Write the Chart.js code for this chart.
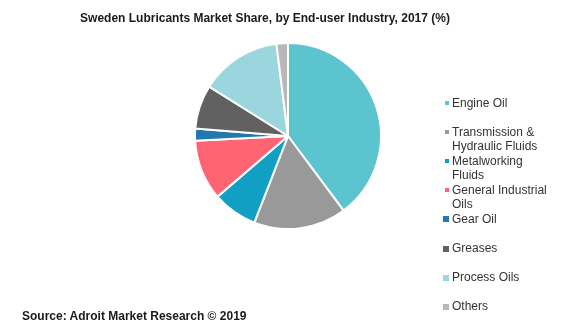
<!DOCTYPE html>
<html>
<head>
<meta charset="utf-8">
<script src="https://cdn.jsdelivr.net/npm/chart.js@4/dist/chart.umd.min.js"></script>
<style>
    html, body {
        margin: 0;
        padding: 0;
        background: #fff;
    }
    #wrap {
        position: relative;
        width: 576px;
        height: 336px;
        font-family: "Liberation Sans", Arial, sans-serif;
    }
    #share-chart {
        position: absolute;
        left: 0;
        top: 0;
    }
    .chart-title {
        position: absolute;
        left: 60px;
        width: 410px;
        top: 11px;
        text-align: center;
        font-size: 12px;
        line-height: 14px;
        font-weight: bold;
        color: #1a1a1a;
        white-space: nowrap;
    }
    .chart-source {
        position: absolute;
        left: 22px;
        top: 309px;
        font-size: 12px;
        line-height: 14px;
        font-weight: bold;
        color: #1a1a1a;
        white-space: nowrap;
    }
    .legend-item {
        position: absolute;
        left: 452px;
        font-size: 12px;
        line-height: 14.5px;
        color: #333;
        white-space: pre-line;
    }
    .legend-box {
        position: absolute;
    }
</style>
</head>
<body>
<div id="wrap">
    <canvas id="share-chart" width="576" height="336"></canvas>
    <div class="chart-title">Sweden Lubricants Market Share, by End-user Industry, 2017 (%)</div>
    <div id="legend"></div>
    <div class="chart-source">Source: Adroit Market Research &copy; 2019</div>
</div>
<script>
// End-user industries and their share (%)
const industries = [
    'Engine Oil',
    'Transmission &\nHydraulic Fluids',
    'Metalworking\nFluids',
    'General Industrial\nOils',
    'Gear Oil',
    'Greases',
    'Process Oils',
    'Others'
];
const shares = [39.8, 16.1, 7.8, 10.5, 2.1, 7.6, 14.1, 2.0];
const sliceColors = [
    '#5bc4cf', // Engine Oil
    '#999999', // Transmission & Hydraulic
    '#129fc4', // Metalworking
    '#ff6473', // General Industrial
    '#2179ad', // Gear Oil
    '#616161', // Greases
    '#9bd5de', // Process Oils
    '#b8b8b8'  // Others
];

// Build the legend on the right
function buildLegend() {
    const legend = document.getElementById('legend');
    const firstY = 103;
    const step = 29.1;
    industries.forEach((name, i) => {
        const y = firstY + i * step;
        const size = i < 4 ? 4 : 6;
        const box = document.createElement('div');
        box.className = 'legend-box';
        box.style.left = (449 - size) + 'px';
        box.style.top = (y - size / 2) + 'px';
        box.style.width = size + 'px';
        box.style.height = size + 'px';
        box.style.background = sliceColors[i];
        legend.appendChild(box);

        const item = document.createElement('div');
        item.className = 'legend-item';
        item.style.top = (y - 7.5) + 'px';
        item.textContent = name;
        legend.appendChild(item);
    });
}

// Pie chart
function initShareChart() {
    const ctx = document.getElementById('share-chart');
    new Chart(ctx, {
        type: 'pie',
        data: {
            labels: industries,
            datasets: [{
                data: shares,
                backgroundColor: sliceColors,
                borderColor: '#fff',
                borderWidth: 2,
                radius: 93
            }]
        },
        options: {
            responsive: false,
            animation: false,
            layout: {
                padding: { left: 180, right: 180, top: 30, bottom: 94 }
            },
            plugins: {
                legend: { display: false },
                tooltip: { enabled: false }
            }
        }
    });
}

buildLegend();
initShareChart();
</script>
</body>
</html>
